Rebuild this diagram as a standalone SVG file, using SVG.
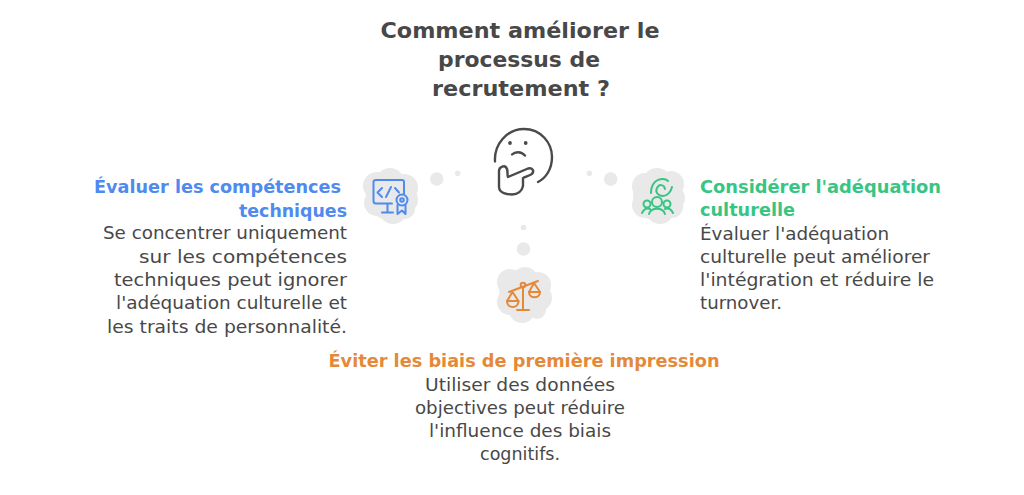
<svg xmlns="http://www.w3.org/2000/svg" width="1024" height="495" viewBox="0 0 1024 495">
<style>
text{font-family:"DejaVu Sans","Liberation Sans",sans-serif}
.t{font-size:22px;font-weight:700;fill:#484848;text-anchor:middle}
.h{font-size:18.5px;font-weight:700}
.b{font-size:18px;fill:#484848}
.e{text-anchor:end}.m{text-anchor:middle}
.blue{fill:#4f8aef}.green{fill:#38c584}.orange{fill:#e4893a}
.blob circle,.blob ellipse{fill:#e9e9e9}
.dot{fill:#e9e9e9}
.ic{fill:none;stroke-width:2;stroke-linecap:round;stroke-linejoin:round}
.face{fill:none;stroke:#4a4a4a;stroke-width:2.4;stroke-linecap:round;stroke-linejoin:round}
</style>
<rect width="1024" height="495" fill="#fff"/>
<g id="title">
<text class="t" x="520" y="38" textLength="279" lengthAdjust="spacingAndGlyphs">Comment améliorer le</text>
<text class="t" x="519" y="67" textLength="162" lengthAdjust="spacingAndGlyphs">processus de</text>
<text class="t" x="521" y="96" textLength="178" lengthAdjust="spacingAndGlyphs">recrutement ?</text>
</g>
<g id="connectors">
<circle class="dot" cx="436.700" cy="179" r="6.700"/>
<circle class="dot" cx="457.700" cy="173.300" r="2.800"/>
<circle class="dot" cx="610.700" cy="179" r="6.800"/>
<circle class="dot" cx="589.300" cy="173.300" r="2.800"/>
<circle class="dot" cx="523.500" cy="227.500" r="2.800"/>
<circle class="dot" cx="523.500" cy="249" r="6.800"/>
</g>
<g id="thinker">
<path class="face" d="M495 161.500C494 144 507 129 524 129C541 129 552 143 552 157C552 169 546 178 538 182"/>
<circle cx="510" cy="143" r="1.900" fill="#4a4a4a"/><circle cx="525.700" cy="143" r="1.900" fill="#4a4a4a"/>
<path class="face" d="M512 154.500C515 151.500 521 151 525 155.500"/>
<path class="face" d="M499 187V171C499 167 505 164 507 169C508 172 507 175 508 177L528 168.500C533 167 535 172 531 174.500C528 176 525 177 523 178C523 181 523 184 523 186C522 191 518 194.500 512 194.500L507 194C502 193 499 191 499 187Z"/>
</g>
<g id="node-technique">
<g class="blob">
<circle cx="390" cy="196" r="24"/><circle cx="377" cy="186" r="14"/><circle cx="390" cy="182" r="14"/><circle cx="404" cy="188" r="14"/><circle cx="405" cy="200" r="13"/><circle cx="377" cy="203" r="13"/><circle cx="393" cy="210" r="14"/><circle cx="405" cy="209" r="10"/>
</g>
<g class="ic" stroke="#4f8aef">
<path d="M392 203.500H376Q373.500 203.500 373.500 201V182Q373.500 180 376 180H402Q404 180 404 182V194"/>
<path d="M387.500 204V212M382 212.500H393"/>
<path d="M382 188L377.500 192.500L382 197M395 188L399 192.500M386 197L391 187"/>
<circle cx="402" cy="200" r="5.500"/><circle cx="402" cy="200" r="1.800"/>
<path d="M397.500 205V214L402 210.500L405.500 214V205"/>
</g>
</g>
<g id="node-culture">
<g class="blob">
<circle cx="658" cy="196" r="25"/><circle cx="645" cy="186" r="13"/><circle cx="657" cy="182" r="14"/><circle cx="671" cy="184" r="13"/><circle cx="672" cy="198" r="13"/><circle cx="645" cy="205" r="13"/><circle cx="660" cy="210" r="14"/><circle cx="672" cy="207" r="11"/>
</g>
<g class="ic" stroke="#38c584">
<path d="M651 193C651 184 656 179 663 179C665 179 667 180 668 181"/>
<path d="M672 187C671 192 667 196 663 196C658 196 655 192 657 188C659 184 664 184 665 189"/>
<circle cx="657" cy="202" r="5"/><circle cx="647" cy="204" r="3.500"/><circle cx="667" cy="204" r="3.500"/>
<path d="M642 213C644 209 647 208 650 209M649 214C651 207 663 207 665 214M673 213C671 209 668 208 665 209"/>
</g>
</g>
<g id="node-biais">
<g class="blob">
<circle cx="523" cy="295" r="24"/><circle cx="510" cy="282" r="13"/><circle cx="525" cy="280" r="13"/><circle cx="538" cy="285" r="13"/><circle cx="539" cy="298" r="13"/><circle cx="510" cy="302" r="13"/><circle cx="522" cy="310" r="13"/><circle cx="537" cy="310" r="9"/>
</g>
<g class="ic" stroke="#e4893a">
<path d="M509 292L538 281M523 287.500V310M517 310H529"/>
<circle cx="523" cy="285" r="2.300"/>
<path d="M512.500 292L507 301H518.500ZM534 283L529 292H540Z"/>
<path d="M507 301C507 309 518.500 309 518.500 301M529 292C529 299 540 299 540 292"/>
</g>
</g>
<g id="text-technique">
<text class="h blue" x="94" y="193" textLength="247" lengthAdjust="spacingAndGlyphs">Évaluer les compétences</text>
<text class="h blue e" x="347" y="217" textLength="108" lengthAdjust="spacingAndGlyphs">techniques</text>
<text class="b e" x="347" y="239" textLength="244" lengthAdjust="spacingAndGlyphs">Se concentrer uniquement</text>
<text class="b e" x="347" y="263" textLength="208" lengthAdjust="spacingAndGlyphs">sur les compétences</text>
<text class="b e" x="347" y="286" textLength="233" lengthAdjust="spacingAndGlyphs">techniques peut ignorer</text>
<text class="b e" x="347" y="309" textLength="231" lengthAdjust="spacingAndGlyphs">l'adéquation culturelle et</text>
<text class="b e" x="347" y="333" textLength="240" lengthAdjust="spacingAndGlyphs">les traits de personnalité.</text>
</g>
<g id="text-culture">
<text class="h green" x="700" y="193" textLength="241" lengthAdjust="spacingAndGlyphs">Considérer l'adéquation</text>
<text class="h green" x="700" y="216" textLength="95" lengthAdjust="spacingAndGlyphs">culturelle</text>
<text class="b" x="700" y="240" textLength="189" lengthAdjust="spacingAndGlyphs">Évaluer l'adéquation</text>
<text class="b" x="700" y="263" textLength="230" lengthAdjust="spacingAndGlyphs">culturelle peut améliorer</text>
<text class="b" x="700" y="286" textLength="234" lengthAdjust="spacingAndGlyphs">l'intégration et réduire le</text>
<text class="b" x="700" y="309" textLength="82" lengthAdjust="spacingAndGlyphs">turnover.</text>
</g>
<g id="text-biais">
<text class="h orange m" x="524" y="367" textLength="391" lengthAdjust="spacingAndGlyphs">Éviter les biais de première impression</text>
<text class="b m" x="520" y="391" textLength="190" lengthAdjust="spacingAndGlyphs">Utiliser des données</text>
<text class="b m" x="520" y="414" textLength="210" lengthAdjust="spacingAndGlyphs">objectives peut réduire</text>
<text class="b m" x="520" y="437" textLength="182" lengthAdjust="spacingAndGlyphs">l'influence des biais</text>
<text class="b m" x="520" y="460" textLength="80" lengthAdjust="spacingAndGlyphs">cognitifs.</text>
</g>
</svg>
